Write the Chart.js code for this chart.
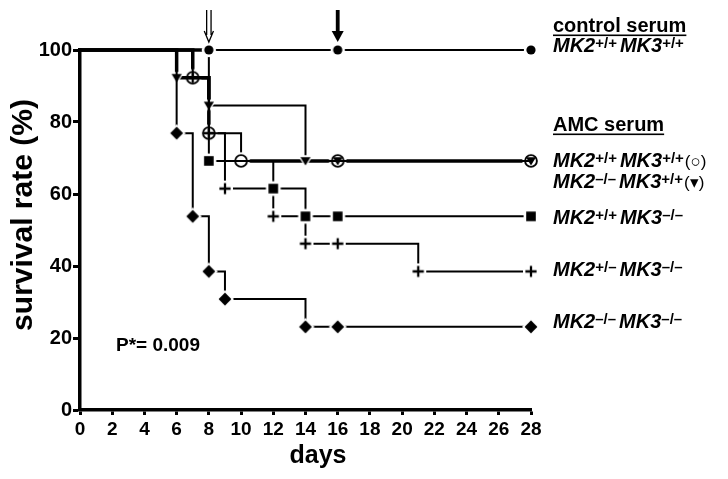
<!DOCTYPE html>
<html>
<head>
<meta charset="utf-8">
<script src="https://cdn.jsdelivr.net/npm/chart.js@4.4.1/dist/chart.umd.min.js"></script>
<style>
  html, body { margin: 0; padding: 0; background: #fff; }
  #wrap { width: 728px; height: 479px; }
</style>
</head>
<body>
<div id="wrap"><canvas id="survivalChart"></canvas></div>
<script>
// Kaplan-Meier survival, days vs survival rate (%)
const controlDays = [0, 8, 16, 28];
const controlSurvival = [100, 100, 100, 100];

const amcWtDays = [0, 7, 8, 10, 16, 28];
const amcWtSurvival = [100, 92.3, 76.9, 69.2, 69.2, 69.2];

const mk2KoDays = [0, 6, 8, 14, 16, 28];
const mk2KoSurvival = [100, 92.3, 84.6, 69.2, 69.2, 69.2];

const mk3KoDays = [0, 8, 12, 14, 16, 28];
const mk3KoSurvival = [100, 69.2, 61.5, 53.8, 53.8, 53.8];

const mk2HetDays = [0, 7, 8, 9, 12, 14, 16, 21, 28];
const mk2HetSurvival = [100, 92.3, 76.9, 61.5, 53.8, 46.2, 46.2, 38.5, 38.5];

const dkoDays = [0, 6, 7, 8, 9, 14, 16, 28];
const dkoSurvival = [100, 76.9, 53.8, 38.5, 30.8, 23.1, 23.1, 23.1];

const arrowDays = [8, 16];
const pValueText = "P*= 0.009";
const serumHeaders = ["control serum", "AMC serum"];
const genotypeRows = [
  ["MK2", "+/+", "MK3", "+/+", ""],
  ["MK2", "+/+", "MK3", "+/+", "(\u25CB)"],
  ["MK2", "\u2013/\u2013", "MK3", "+/+", "(\u25BE)"],
  ["MK2", "+/+", "MK3", "\u2013/\u2013", ""],
  ["MK2", "+/\u2013", "MK3", "\u2013/\u2013", ""],
  ["MK2", "\u2013/\u2013", "MK3", "\u2013/\u2013", ""]
];
const xTitle = "days";
const yTitle = "survival rate (%)";

const FONT = '"Liberation Sans", Arial, Helvetica, sans-serif';

function toPoints(days, surv) {
  return days.map((d, i) => ({ x: d, y: surv[i] }));
}

// marker images, black with a white halo like the original figure
function makeMarker(kind, halo) {
  const c = document.createElement("canvas");
  c.width = 22; c.height = 22;
  const g = c.getContext("2d");
  g.translate(11, 11);
  const shape = (r) => {
    g.beginPath();
    if (kind === "dot") g.arc(0, 0, r, 0, Math.PI * 2);
    if (kind === "square") g.rect(-r, -r, 2 * r, 2 * r);
    if (kind === "diamond") { g.moveTo(0, -r); g.lineTo(r, 0); g.lineTo(0, r); g.lineTo(-r, 0); g.closePath(); }
    if (kind === "tri") { g.moveTo(-r, -r * 0.75); g.lineTo(r, -r * 0.75); g.lineTo(0, r * 0.9); g.closePath(); }
  };
  if (kind === "plus") {
    const arm = (w, len, col) => {
      g.strokeStyle = col; g.lineWidth = w;
      g.beginPath(); g.moveTo(-len, 0); g.lineTo(len, 0); g.moveTo(0, -len); g.lineTo(0, len); g.stroke();
    };
    if (halo) arm(5.5, 8, "#fff");
    arm(2.3, 5.6, "#000");
    return c;
  }
  if (kind === "ring") {
    g.fillStyle = "#fff";
    g.beginPath(); g.arc(0, 0, 8.8, 0, Math.PI * 2); g.fill();
    g.strokeStyle = "#000"; g.lineWidth = 1.9;
    g.beginPath(); g.arc(0, 0, 5.9, 0, Math.PI * 2); g.stroke();
    return c;
  }
  const sizes = { dot: 4.6, square: 4.8, diamond: 6.4, tri: 5.1 };
  const r = sizes[kind];
  if (halo) { g.fillStyle = "#fff"; shape(r + 2.6); g.fill(); }
  g.fillStyle = "#000"; shape(r); g.fill();
  return c;
}

const mk = {
  dot: makeMarker("dot", true),
  ring: makeMarker("ring", true),
  tri: makeMarker("tri", true),
  triPlain: makeMarker("tri", false),
  square: makeMarker("square", true),
  diamond: makeMarker("diamond", true),
  plus: makeMarker("plus", true),
  plusPlain: makeMarker("plus", false)
};

function curve(days, surv, marker, order, heavy) {
  return {
    data: toPoints(days, surv),
    stepped: "before",
    borderColor: "#000",
    borderWidth: 2,
    borderJoinStyle: "miter",
    borderCapStyle: "butt",
    fill: false,
    clip: false,
    order: order,
    pointStyle: marker,
    pointRadius: ctx => (ctx.dataIndex === 0 ? 0 : 8),
    pointHoverRadius: 8,
    segment: { borderWidth: ctx => (heavy.includes(ctx.p0DataIndex) ? 3.5 : 2) }
  };
}

const datasets = [
  curve(controlDays, controlSurvival, mk.dot, 1, [0]),
  curve(dkoDays, dkoSurvival, mk.diamond, 2, []),
  curve(mk3KoDays, mk3KoSurvival, mk.square, 3, []),
  curve(mk2HetDays, mk2HetSurvival, ctx => (ctx.dataIndex <= 2 ? mk.plusPlain : mk.plus), 4, []),
  curve(mk2KoDays, mk2KoSurvival, ctx => (ctx.dataIndex >= 4 ? mk.triPlain : mk.tri), 5, [0, 1]),
  curve(amcWtDays, amcWtSurvival, mk.ring, 6, [0, 1, 3, 4])
];

const annotations = {
  id: "annotations",
  afterDraw(chart) {
    const { ctx, scales: { x } } = chart;
    ctx.save();
    ctx.fillStyle = "#000";
    ctx.strokeStyle = "#000";

    // arrows above the plot
    arrowDays.forEach((d, i) => {
      const px = x.getPixelForValue(d);
      if (i === 0) {
        ctx.lineWidth = 1.3;
        ctx.beginPath();
        ctx.moveTo(px - 2.2, 10); ctx.lineTo(px - 2.2, 35);
        ctx.moveTo(px + 2.2, 10); ctx.lineTo(px + 2.2, 35);
        ctx.moveTo(px - 4.6, 31); ctx.lineTo(px, 42); ctx.lineTo(px + 4.6, 31);
        ctx.stroke();
      } else {
        ctx.fillRect(px - 1.9, 10, 3.8, 22);
        ctx.beginPath();
        ctx.moveTo(px - 6, 31); ctx.lineTo(px + 6, 31); ctx.lineTo(px, 42); ctx.closePath();
        ctx.fill();
      }
    });

    // p value
    ctx.font = "bold 19px " + FONT;
    ctx.textAlign = "left";
    ctx.textBaseline = "alphabetic";
    ctx.fillText(pValueText, 116, 351);

    // axis titles
    ctx.font = "bold 25px " + FONT;
    ctx.textAlign = "center";
    ctx.fillText(xTitle, 318, 463);
    ctx.save();
    ctx.translate(32, 215);
    ctx.rotate(-Math.PI / 2);
    ctx.font = "bold 30px " + FONT;
    ctx.fillText(yTitle, 0, 0);
    ctx.restore();

    // right-hand legend text
    const lx = 553;
    ctx.textAlign = "left";
    const headerBase = [32, 131];
    serumHeaders.forEach((h, i) => {
      ctx.font = "bold 20px " + FONT;
      ctx.fillText(h, lx, headerBase[i]);
      const w = ctx.measureText(h).width;
      ctx.fillRect(lx, headerBase[i] + 2.5, w, 1.6);
    });
    const rowBase = [52, 167, 188, 224, 276, 328];
    genotypeRows.forEach((row, i) => {
      let cx = lx;
      const by = rowBase[i];
      row.forEach((part, j) => {
        if (!part) return;
        if (j === 0 || j === 2) {
          ctx.font = "italic bold 20px " + FONT;
          ctx.fillText(part, cx, by);
        } else if (j === 1 || j === 3) {
          ctx.font = "bold 15px " + FONT;
          ctx.fillText(part, cx, by - 4);
        } else {
          ctx.font = "17px " + FONT;
          ctx.fillText(part, cx + 1, by);
        }
        cx += ctx.measureText(part).width + (j === 1 ? 3 : 0);
      });
    });
    ctx.restore();
  }
};

new Chart(document.getElementById("survivalChart"), {
  type: "line",
  data: { datasets },
  options: {
    responsive: true,
    maintainAspectRatio: false,
    animation: false,
    layout: { padding: { top: 50, right: 197, left: 0, bottom: 0 } },
    plugins: { legend: { display: false }, tooltip: { enabled: false } },
    scales: {
      x: {
        type: "linear",
        min: 0,
        max: 28,
        ticks: { stepSize: 2, color: "#000", padding: 3, maxRotation: 0, font: { family: FONT, size: 19, weight: "bold" } },
        grid: { drawOnChartArea: false, drawTicks: true, tickLength: 5, tickWidth: 3, tickColor: "#000" },
        border: { color: "#000", width: 3.5 },
        afterFit: s => { s.height = 69; }
      },
      y: {
        min: 0,
        max: 100,
        ticks: { stepSize: 20, color: "#000", padding: 1, font: { family: FONT, size: 20, weight: "bold" } },
        grid: { drawOnChartArea: false, drawTicks: true, tickLength: 7, tickWidth: 3, tickColor: "#000" },
        border: { color: "#000", width: 3.5 },
        afterFit: s => { s.width = 80; }
      }
    }
  },
  plugins: [annotations]
});
</script>
</body>
</html>
